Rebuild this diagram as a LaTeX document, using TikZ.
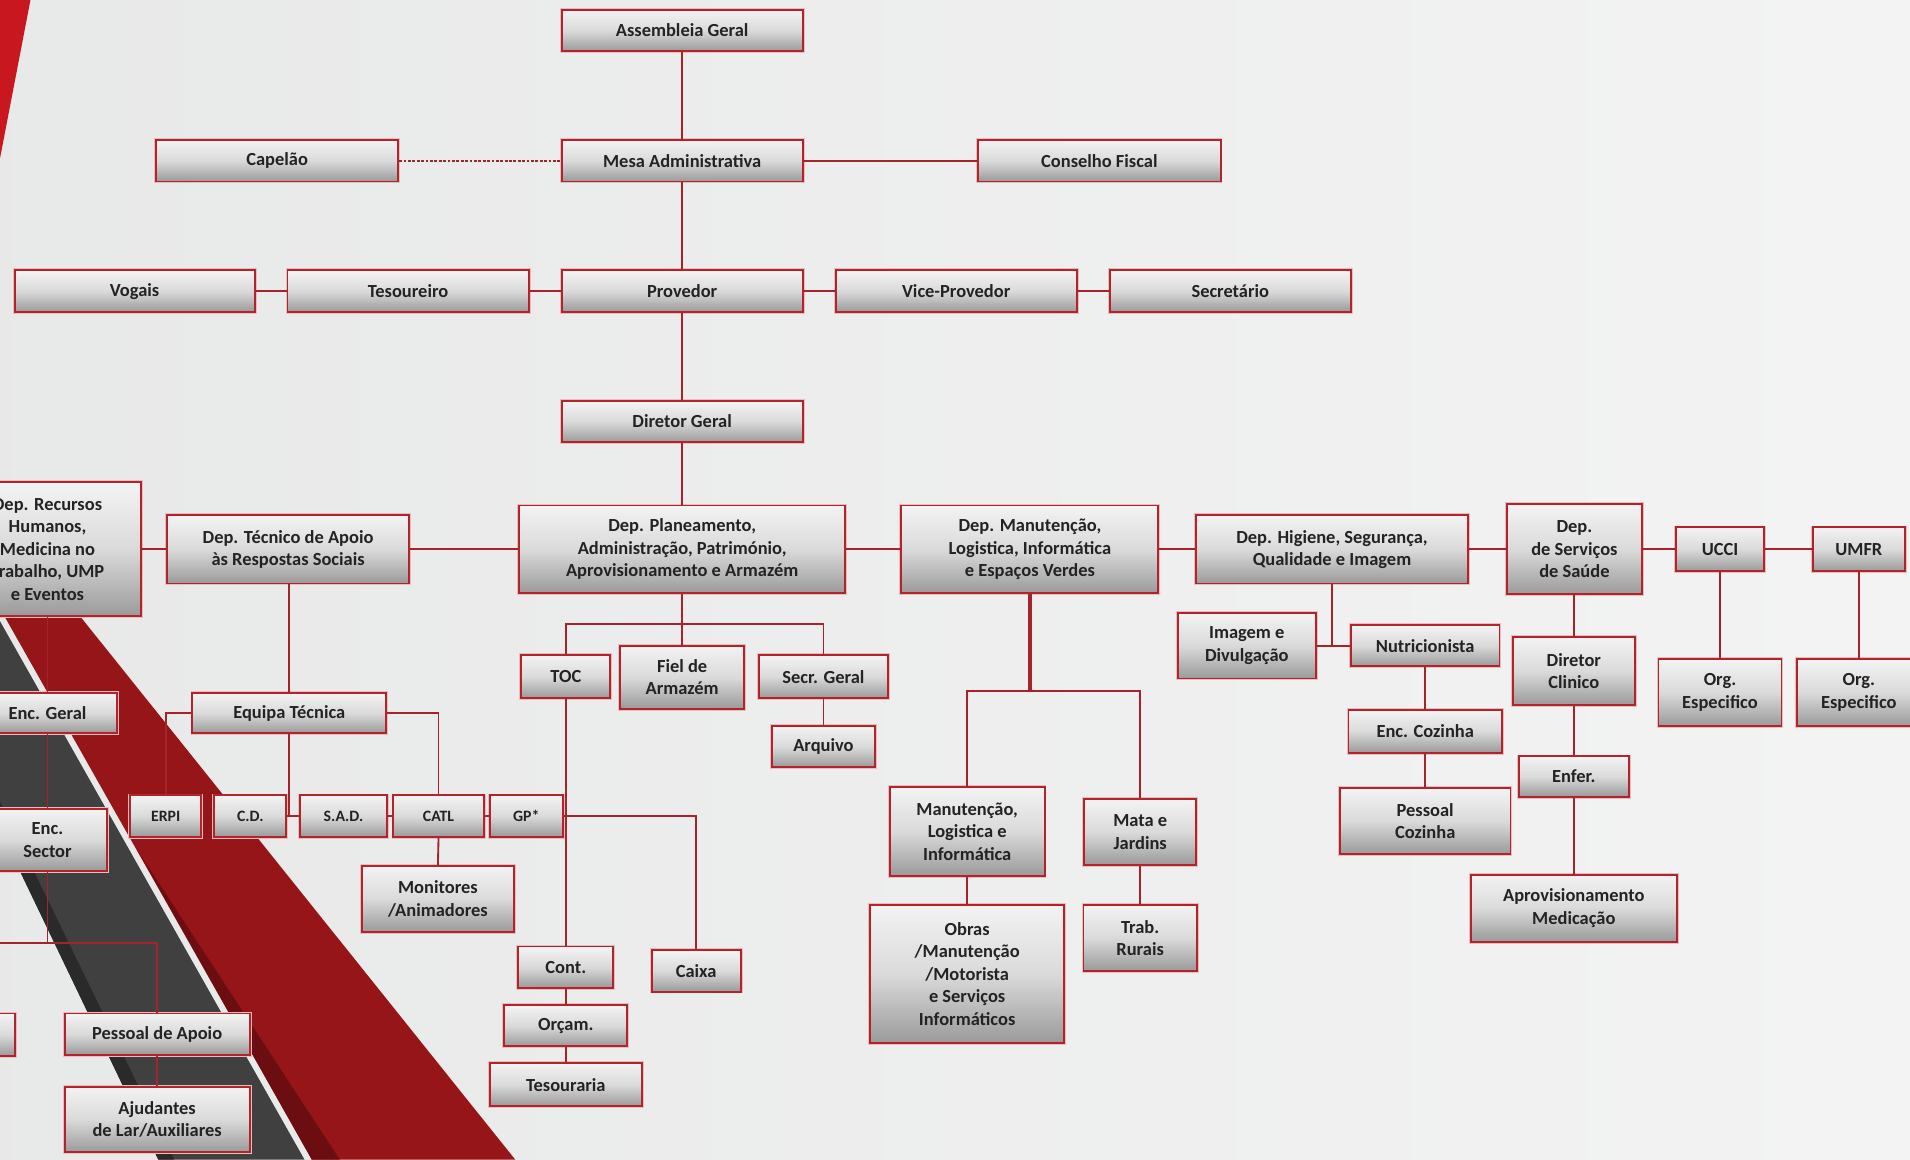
\documentclass[tikz,border=0pt]{standalone}
\usepackage{fontspec}
\setmainfont{Carlito}
\usetikzlibrary{calc}

\newlength\px
\setlength\px{0.024362cm}
\newcommand\unitfont{\fontsize{10.5}{12.8}\selectfont\bfseries}
\newcommand\rowfont{\fontsize{9}{11}\selectfont\bfseries}

\definecolor{boxred}{HTML}{B3232A}
\definecolor{linkred}{HTML}{A5232A}
\definecolor{boxtop}{HTML}{F3F3F3}
\definecolor{boxmid}{HTML}{DADADA}
\definecolor{boxbot}{HTML}{9A9A9A}
\definecolor{boxtext}{HTML}{232323}
\definecolor{bgleft}{HTML}{E2E3E3}
\definecolor{bgmid}{HTML}{F4F4F4}
\definecolor{bgright}{HTML}{E0E2E2}
\definecolor{bandred}{HTML}{961519}
\definecolor{bandshade}{HTML}{6C0E11}
\definecolor{bandgray}{HTML}{404040}
\definecolor{banddeep}{HTML}{2A2A2A}
\definecolor{cornerred}{HTML}{C8171E}
\pgfdeclarehorizontalshading{slidebg}{100bp}{color(0bp)=(bgleft); color(78bp)=(bgmid); color(100bp)=(bgright)}

\begin{document}
\begin{tikzpicture}[
  x=0.024362cm, y=-0.024362cm,
  unit/.style 2 args={draw=boxred, line width=1.1pt,
    preaction={draw=boxred!30, line width=2.2pt},
    top color=boxtop, bottom color=boxbot, middle color=boxmid,
    minimum width=#1\px, minimum height=#2\px, inner sep=1pt,
    align=center, text=boxtext, font=\unitfont},
  rowtext/.style={font=\rowfont},
  tie/.style={draw=linkred, line width=1.05pt},
  heavytie/.style={draw=linkred, line width=1.9pt},
  loosetie/.style={draw=linkred, line width=1pt, dash pattern=on 1.6pt off 0.9pt}
]
  \useasboundingbox (0,0) rectangle (1568,952);
  \clip (0,0) rectangle (1568,952);

  % slide background
  \shade[shading=slidebg] (0,0) rectangle (1568,952);
  \fill[cornerred] (0,0) -- (25,0) -- (0,130) -- cycle;
  \fill[bandgray] (0,510) -- (250,952) -- (130,952) -- (0,681) -- cycle;
  \fill[banddeep] (0,681) -- (130,952) -- (143,952) -- (0,658) -- cycle;
  \fill[bandred] (-11,480) -- (45,480) -- (423,952) -- (256,952) -- cycle;
  \fill[bandshade] (114,700) -- (256,952) -- (279,952) -- cycle;

  % governing bodies
  \node[unit={198}{34}] (ag)   at (560,25)    {Assembleia Geral};
  \node[unit={199}{34}] (cap)  at (227.5,132) {Capelão};
  \node[unit={198}{34}] (mesa) at (560,132)   {Mesa Administrativa};
  \node[unit={199}{34}] (cf)   at (902.5,132) {Conselho Fiscal};
  \node[unit={197}{34}] (vog)  at (110.5,239) {Vogais};
  \node[unit={198}{34}] (tes)  at (335,239)   {Tesoureiro};
  \node[unit={198}{34}] (prov) at (560,239)   {Provedor};
  \node[unit={198}{34}] (vice) at (785,239)   {Vice-Provedor};
  \node[unit={198}{34}] (sec)  at (1010,239)  {Secretário};
  \node[unit={198}{34}] (dg)   at (560,346)   {Diretor Geral};

  % departments
  \node[unit={154}{110}] (rh) at (39,451) {Dep. Recursos\\Humanos,\\Medicina no\\Trabalho, UMP\\e Eventos};
  \node[unit={199}{56}] (dt)   at (236.5,451)  {Dep. Técnico de Apoio\\às Respostas Sociais};
  \node[unit={268}{72}] (dp)   at (560,451)    {Dep. Planeamento,\\Administração, Património,\\Aprovisionamento e Armazém};
  \node[unit={211}{72}] (dm)   at (845.5,451)  {Dep. Manutenção,\\Logistica, Informática\\e Espaços Verdes};
  \node[unit={223}{56}] (dh)   at (1093.5,451) {Dep. Higiene, Segurança,\\Qualidade e Imagem};
  \node[unit={111}{74}] (ds)   at (1292.5,451) {Dep.\\de Serviços\\de Saúde};
  \node[unit={72}{36}]  (ucci) at (1412,451)   {UCCI};
  \node[unit={76}{36}]  (umfr) at (1526,451)   {UMFR};

  % human resources
  \node[unit={114}{33}] (encg)   at (39,585.5)  {Enc. Geral};
  \node[unit={98}{51}]  (encs)   at (39,689.5)  {Enc.\\Sector};
  \node[unit={148}{35}] (cutbox) at (-62,849.5) {};
  \node[unit={152}{34}] (papoio) at (129,849)   {Pessoal de Apoio};
  \node[unit={152}{54}] (ajud)   at (129,919)   {Ajudantes\\de Lar/Auxiliares};

  % social support
  \node[unit={159}{33}] (eq) at (237.5,585.5) {Equipa Técnica};
  \node[unit={58}{34}, rowtext] (erpi) at (136,670)   {ERPI};
  \node[unit={59}{34}, rowtext] (cd)   at (205.5,670) {C.D.};
  \node[unit={72}{34}, rowtext] (sad)  at (282,670)   {S.A.D.};
  \node[unit={74}{34}, rowtext] (catl) at (360,670)   {CATL};
  \node[unit={60}{34}, rowtext] (gp)   at (432,670)   {GP*};
  \node[unit={125}{54}] (mon) at (359.5,738) {Monitores\\/Animadores};

  % planning and finance
  \node[unit={73}{35}]  (toc)   at (464.5,555.5) {TOC};
  \node[unit={102}{52}] (fiel)  at (560,556)     {Fiel de\\Armazém};
  \node[unit={106}{35}] (secr)  at (676,555.5)   {Secr. Geral};
  \node[unit={85}{34}]  (arq)   at (676,613)     {Arquivo};
  \node[unit={78}{34}]  (cont)  at (464.5,794)   {Cont.};
  \node[unit={73}{34}]  (caixa) at (571.5,797)   {Caixa};
  \node[unit={101}{34}] (orc)   at (464.5,842)   {Orçam.};
  \node[unit={125}{35}] (tesou) at (464.5,890.5) {Tesouraria};

  % maintenance
  \node[unit={127}{73}]  (manut) at (794,682.5) {Manutenção,\\Logistica e\\Informática};
  \node[unit={159}{113}] (obras) at (794,799.5) {Obras\\/Manutenção\\/Motorista\\e Serviços\\Informáticos};
  \node[unit={92}{54}]   (mata)  at (936,683)   {Mata e\\Jardins};
  \node[unit={93}{54}]   (trab)  at (936,770)   {Trab.\\Rurais};

  % hygiene
  \node[unit={113}{54}] (img)    at (1023.5,530) {Imagem e\\Divulgação};
  \node[unit={122}{34}] (nutri)  at (1170,530)   {Nutricionista};
  \node[unit={126}{35}] (enccoz) at (1170,600.5) {Enc. Cozinha};
  \node[unit={140}{54}] (pescoz) at (1170,674)   {Pessoal\\Cozinha};

  % health
  \node[unit={100}{56}] (dclin) at (1292,551)     {Diretor\\Clinico};
  \node[unit={90}{33}]  (enfer) at (1292,637.5)   {Enfer.};
  \node[unit={169}{55}] (aprov) at (1292,745.5)   {Aprovisionamento\\Medicação};
  \node[unit={101}{55}] (org1)  at (1412,568.5)   {Org.\\Especifico};
  \node[unit={101}{55}] (org2)  at (1526,568.5)   {Org.\\Especifico};

  % top of the chart
  \draw[tie] (ag.south) -- (mesa.north);
  \draw[loosetie] (cap.east) -- (mesa.west);
  \draw[tie] (mesa.east) -- (cf.west);
  \draw[tie] (mesa.south) -- (prov.north);
  \draw[tie] (vog.east) -- (tes.west);
  \draw[tie] (tes.east) -- (prov.west);
  \draw[tie] (prov.east) -- (vice.west);
  \draw[tie] (vice.east) -- (sec.west);
  \draw[tie] (prov.south) -- (dg.north);
  \draw[tie] (dg.south) -- (dp.north);

  % department row
  \draw[tie] (rh.east) -- (dt.west);
  \draw[tie] (dt.east) -- (dp.west);
  \draw[tie] (dp.east) -- (dm.west);
  \draw[tie] (dm.east) -- (dh.west);
  \draw[tie] (dh.east) -- (ds.west);
  \draw[tie] (ds.east) -- (ucci.west);
  \draw[tie] (ucci.east) -- (umfr.west);

  % human resources branch
  \coordinate (hbus) at (39,774);
  \draw[tie] (rh.south) -- (encg.north);
  \draw[tie] (encg.south) -- (encs.north);
  \draw[tie] (encs.south) -- (hbus);
  \draw[tie] (cutbox.north) |- (hbus) -| (papoio.north);
  \draw[tie] (papoio.south) -- (ajud.north);

  % social support branch
  \draw[tie] (dt.south -| eq.north) -- (eq.north);
  \draw[tie] (eq.west) -| (erpi.north);
  \draw[tie] (eq.east) -| (catl.north);
  \draw[tie] (eq.south) -- (eq.south |- cd.east);
  \draw[tie] (cd.east) -- (sad.west);
  \draw[tie] (sad.east) -- (catl.west);
  \draw[tie] (catl.east) -- (gp.west);
  \draw[tie] (catl.south) -- (mon.north);
  \draw[tie] (gp.east) -| (caixa.north);

  % planning branch
  \coordinate (pbus) at (560,512);
  \draw[tie] (dp.south) -- (fiel.north);
  \draw[tie] (toc.north) |- (pbus) -| (secr.north);
  \draw[tie] (secr.south) -- (arq.north);
  \draw[tie] (toc.south) -- (cont.north);
  \draw[tie] (cont.south) -- (orc.north);
  \draw[tie] (orc.south) -- (tesou.north);

  % maintenance branch
  \coordinate (mbus) at (845.5,567);
  \draw[heavytie] (dm.south) -- (mbus);
  \draw[tie] (manut.north) |- (mbus) -| (mata.north);
  \draw[tie] (manut.south) -- (obras.north);
  \draw[tie] (mata.south) -- (trab.north);

  % hygiene branch
  \draw[tie] (dh.south) -- (dh.south |- img.east);
  \draw[tie] (img.east) -- (nutri.west);
  \draw[tie] (nutri.south) -- (enccoz.north);
  \draw[tie] (enccoz.south) -- (pescoz.north);

  % health branch
  \draw[tie] (ds.south -| dclin.north) -- (dclin.north);
  \draw[tie] (dclin.south) -- (enfer.north);
  \draw[tie] (enfer.south) -- (aprov.north);
  \draw[tie] (ucci.south) -- (ucci.south |- org1.north);
  \draw[tie] (umfr.south) -- (umfr.south |- org2.north);
\end{tikzpicture}
\end{document}
